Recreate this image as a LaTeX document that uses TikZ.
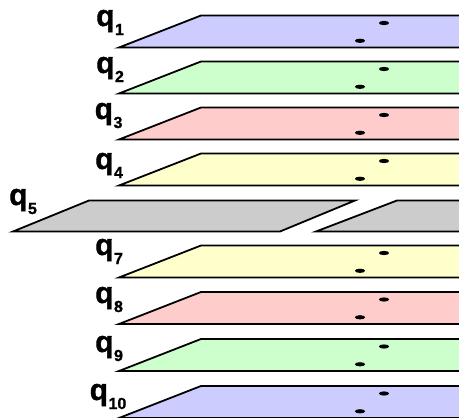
\documentclass[tikz,border=0pt]{standalone}
\usepackage{fontspec}
\setmainfont{Liberation Sans}
\newfontfamily\qfont[FakeBold=1.2]{Liberation Sans Bold}
\definecolor{pblue}{HTML}{CCCCFF}
\definecolor{pgreen}{HTML}{CCFFCC}
\definecolor{pred}{HTML}{FFCCCC}
\definecolor{pyellow}{HTML}{FFFFCC}
\definecolor{pgray}{HTML}{CCCCCC}
\newcommand\qlab[1]{q\kern0.5pt\raisebox{-9pt}{\fontsize{16}{16}\selectfont #1}}
\begin{document}
\begin{tikzpicture}[x=1pt,y=-1pt,
  plane/.style={draw=black, line width=1.8pt, line join=miter},
  blob/.style={fill=black, x radius=5.2, y radius=2.1},
  qlabel/.style={anchor=base west, inner sep=0pt, font=\qfont\fontsize{30}{30}\selectfont}]
\useasboundingbox (0,0) rectangle (459,418);
\clip (0,0) rectangle (459,418);
% regular planes
\foreach \t/\c/\n/\lx/\lb in {15.5/pblue/1/96/26, 61.5/pgreen/2/96/73, 107.5/pred/3/94.5/119, 153.5/pyellow/4/95/169,
  245.5/pyellow/7/95/255, 292/pred/8/95/303, 339/pgreen/9/95/352, 386/pblue/10/89.5/400}{
  \draw[plane, fill=\c] (119,\t+32) -- (201,\t) -- (470,\t) -- (470,\t+32) -- cycle;
  \fill[blob] (384,\t+7.5) ellipse [];
  \fill[blob] (360,\t+25.3) ellipse [];
  \node[qlabel] (q\n) at (\lx,\lb) {\qlab{\n}};
}
% broken plane 5
\draw[plane, fill=pgray] (13,231.5) -- (89,200.5) -- (355,200.5) -- (280,231.5) -- cycle;
\draw[plane, fill=pgray] (316,231.5) -- (397,200.5) -- (470,200.5) -- (470,231.5) -- cycle;
\node[qlabel] (q5) at (9,205) {\qlab{5}};
\end{tikzpicture}
\end{document}
